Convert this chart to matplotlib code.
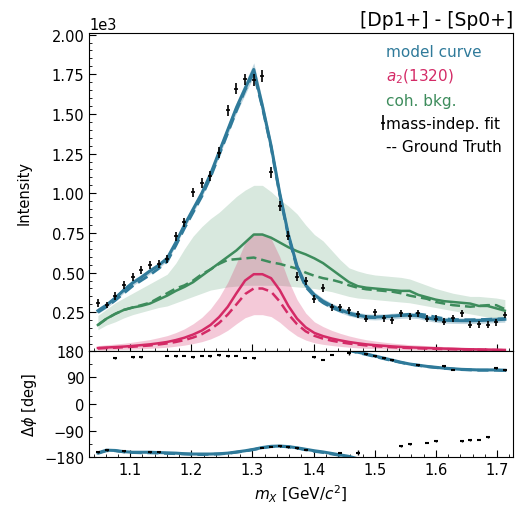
import numpy as np
import matplotlib.pyplot as plt
from matplotlib.ticker import AutoMinorLocator, MultipleLocator
from matplotlib.lines import Line2D

# bin centers of mass-independent fit (GeV)
mass = np.linspace(1.04, 1.72, 49)[:-1] + 0.68 / 96

# mass-independent fit intensities (x1e3)
intens = [0.309, 0.296, 0.354, 0.422, 0.470, 0.518, 0.548, 0.554, 0.585, 0.728,
          0.816, 1.005, 1.064, 1.110, 1.257, 1.523, 1.660, 1.718, 1.714, 1.739,
          1.131, 0.921, 0.732, 0.474, 0.449, 0.331, 0.403, 0.281, 0.281, 0.262,
          0.239, 0.208, 0.250, 0.212, 0.199, 0.245, 0.226, 0.245, 0.208, 0.208,
          0.191, 0.212, 0.245, 0.172, 0.176, 0.170, 0.187, 0.233]
intens_err = [0.025, 0.022, 0.025, 0.025, 0.025, 0.025, 0.025, 0.025, 0.025, 0.028,
              0.028, 0.030, 0.030, 0.030, 0.032, 0.034, 0.035, 0.035, 0.035, 0.035,
              0.033, 0.030, 0.028, 0.028, 0.025, 0.025, 0.025, 0.022, 0.022, 0.022,
              0.022, 0.022, 0.022, 0.022, 0.022, 0.022, 0.022, 0.022, 0.022, 0.022,
              0.022, 0.022, 0.022, 0.022, 0.022, 0.022, 0.022, 0.022]

# model curve (total)
model = [0.26, 0.295, 0.34, 0.39, 0.435, 0.47, 0.51, 0.545, 0.59, 0.69,
         0.80, 0.90, 1.00, 1.12, 1.26, 1.40, 1.54, 1.66, 1.78, 1.55,
         1.30, 1.00, 0.74, 0.54, 0.42, 0.36, 0.32, 0.29, 0.265, 0.245,
         0.232, 0.222, 0.220, 0.222, 0.226, 0.230, 0.232, 0.228, 0.215, 0.205,
         0.200, 0.198, 0.197, 0.197, 0.198, 0.200, 0.203, 0.206]
model_truth = [0.25, 0.285, 0.325, 0.37, 0.415, 0.45, 0.485, 0.525, 0.57, 0.67,
               0.78, 0.88, 0.98, 1.10, 1.24, 1.38, 1.52, 1.65, 1.76, 1.54,
               1.29, 0.99, 0.73, 0.53, 0.41, 0.35, 0.31, 0.28, 0.258, 0.24,
               0.226, 0.218, 0.216, 0.220, 0.226, 0.232, 0.238, 0.240, 0.232, 0.220,
               0.210, 0.205, 0.203, 0.203, 0.204, 0.206, 0.208, 0.210]
model_err = [0.018, 0.018, 0.018, 0.018, 0.018, 0.018, 0.018, 0.018, 0.018, 0.020,
             0.020, 0.022, 0.024, 0.026, 0.028, 0.030, 0.034, 0.038, 0.042, 0.036,
             0.030, 0.026, 0.022, 0.020, 0.018, 0.018, 0.018, 0.018, 0.018, 0.018,
             0.018, 0.018, 0.018, 0.018, 0.018, 0.018, 0.018, 0.018, 0.018, 0.018,
             0.018, 0.018, 0.018, 0.018, 0.018, 0.018, 0.018, 0.018]

# a2(1320)
a2 = [0.025, 0.028, 0.031, 0.034, 0.038, 0.043, 0.048, 0.055, 0.063, 0.075,
      0.090, 0.110, 0.135, 0.170, 0.220, 0.285, 0.370, 0.450, 0.490, 0.490,
      0.465, 0.390, 0.290, 0.210, 0.155, 0.120, 0.100, 0.085, 0.073, 0.063,
      0.055, 0.048, 0.043, 0.039, 0.035, 0.032, 0.029, 0.027, 0.025, 0.023,
      0.021, 0.020, 0.018, 0.017, 0.016, 0.015, 0.014, 0.013]
a2_truth = [0.022, 0.025, 0.027, 0.030, 0.033, 0.037, 0.041, 0.047, 0.054, 0.063,
            0.075, 0.091, 0.112, 0.142, 0.183, 0.236, 0.300, 0.365, 0.400, 0.400,
            0.380, 0.318, 0.238, 0.175, 0.130, 0.102, 0.084, 0.071, 0.061, 0.053,
            0.047, 0.041, 0.037, 0.033, 0.030, 0.027, 0.025, 0.023, 0.021, 0.020,
            0.018, 0.017, 0.016, 0.015, 0.014, 0.013, 0.012, 0.011]
a2_lo = [0.012, 0.013, 0.015, 0.016, 0.018, 0.020, 0.023, 0.026, 0.030, 0.036,
         0.043, 0.053, 0.065, 0.082, 0.106, 0.137, 0.178, 0.216, 0.235, 0.235,
         0.223, 0.187, 0.140, 0.101, 0.075, 0.058, 0.048, 0.041, 0.035, 0.030,
         0.026, 0.023, 0.021, 0.019, 0.017, 0.015, 0.014, 0.013, 0.012, 0.011,
         0.010, 0.010, 0.009, 0.008, 0.008, 0.007, 0.007, 0.006]
a2_hi = [0.040, 0.045, 0.050, 0.055, 0.062, 0.070, 0.078, 0.090, 0.103, 0.122,
         0.146, 0.178, 0.218, 0.272, 0.345, 0.440, 0.560, 0.690, 0.750, 0.750,
         0.715, 0.600, 0.450, 0.330, 0.245, 0.190, 0.160, 0.136, 0.117, 0.101,
         0.088, 0.077, 0.069, 0.062, 0.056, 0.051, 0.046, 0.043, 0.040, 0.037,
         0.034, 0.032, 0.029, 0.027, 0.026, 0.024, 0.022, 0.021]

# coherent background
bkg = [0.17, 0.21, 0.24, 0.265, 0.28, 0.29, 0.305, 0.33, 0.355, 0.385,
       0.41, 0.44, 0.48, 0.52, 0.56, 0.60, 0.64, 0.69, 0.74, 0.74,
       0.72, 0.69, 0.66, 0.635, 0.615, 0.59, 0.56, 0.52, 0.48, 0.44,
       0.415, 0.405, 0.40, 0.395, 0.39, 0.385, 0.385, 0.36, 0.345, 0.33,
       0.32, 0.315, 0.31, 0.305, 0.29, 0.29, 0.275, 0.26]
bkg_truth = [0.17, 0.21, 0.24, 0.265, 0.28, 0.295, 0.31, 0.34, 0.37, 0.40,
             0.42, 0.45, 0.49, 0.52, 0.555, 0.58, 0.585, 0.59, 0.595, 0.58,
             0.565, 0.555, 0.54, 0.525, 0.50, 0.48, 0.465, 0.455, 0.44, 0.42,
             0.405, 0.395, 0.39, 0.385, 0.38, 0.37, 0.355, 0.345, 0.335, 0.315,
             0.305, 0.295, 0.29, 0.285, 0.29, 0.295, 0.295, 0.27]
bkg_lo = [0.14, 0.17, 0.19, 0.215, 0.235, 0.25, 0.265, 0.28, 0.29, 0.31,
          0.33, 0.35, 0.37, 0.39, 0.40, 0.41, 0.415, 0.42, 0.42, 0.42,
          0.42, 0.42, 0.415, 0.41, 0.405, 0.40, 0.39, 0.38, 0.365, 0.35,
          0.34, 0.335, 0.33, 0.325, 0.32, 0.315, 0.31, 0.30, 0.29, 0.28,
          0.27, 0.26, 0.25, 0.24, 0.23, 0.22, 0.215, 0.21]
bkg_hi = [0.23, 0.27, 0.31, 0.34, 0.37, 0.40, 0.43, 0.46, 0.49, 0.56,
          0.65, 0.73, 0.79, 0.84, 0.88, 0.93, 0.98, 1.02, 1.05, 1.05,
          1.01, 0.96, 0.92, 0.87, 0.80, 0.74, 0.70, 0.64, 0.58, 0.53,
          0.51, 0.495, 0.485, 0.48, 0.475, 0.47, 0.46, 0.44, 0.42, 0.40,
          0.385, 0.37, 0.36, 0.35, 0.35, 0.345, 0.34, 0.33]

# phase difference (deg), model unwrapped
phase_model = [-165, -156, -157, -161, -163, -163, -163, -164, -165, -166,
               -168, -169, -169, -169, -168, -166, -162, -158, -153, -147,
               -143, -142, -144, -148, -153, -158, -162, -167, -172, -177,
               -185, -191, -198, -205, -212, -219, -225, -229, -233, -236,
               -239, -241, -243, -244, -245, -245, -245, -246]
phase_truth = [-167, -158, -158, -162, -164, -165, -165, -166, -167, -168,
               -169, -170, -171, -170, -169, -167, -163, -159, -154, -148,
               -144, -143, -145, -149, -155, -160, -164, -169, -174, -179,
               -187, -193, -200, -207, -214, -220, -226, -230, -234, -237,
               -240, -242, -244, -245, -246, -246, -246, -247]
phase_data = [-163, -157, 154, -160, 158, 158, -162, -163, 163, 161,
              163, 158, 163, 161, 164, 161, 163, 157, 155, -148,
              -144, -142, -145, -149, -154, 158, 150, 166, -164, 172,
              -164, 169, 162, 155, 148, -142, -136, 131, -131, -126,
              127, 116, -126, -122, -121, -112, 120, 114]
phase_err = [2, 2, 2, 2, 2, 2, 2, 2, 2, 2,
             2, 2, 2, 2, 2, 2, 2, 2, 2, 2,
             2, 2, 2, 2, 2, 2, 2, 2, 2, 5,
             7, 2, 2, 2, 2, 2, 2, 2, 2, 2,
             2, 2, 2, 2, 2, 2, 2, 2]

blue = '#2f7a9a'
pink = '#d42a66'
green = '#3d8c5c'

fig = plt.figure(figsize=(5.17, 5.10), dpi=100)
ax = fig.add_axes([0.1727, 0.3104, 0.8193, 0.6229])
axp = fig.add_axes([0.1727, 0.1014, 0.8193, 0.2090], sharex=ax)

m = np.array(mass)
sc = 1000.0

# bands
ax.fill_between(m, np.array(bkg_lo) * sc, np.array(bkg_hi) * sc, color=green, alpha=0.2, lw=0)
ax.fill_between(m, np.array(a2_lo) * sc, np.array(a2_hi) * sc, color=pink, alpha=0.25, lw=0)
ax.fill_between(m, (np.array(model) - model_err) * sc, (np.array(model) + model_err) * sc,
                color=blue, alpha=0.3, lw=0)

ax.plot(m, np.array(bkg) * sc, color=green, lw=1.8)
ax.plot(m, np.array(bkg_truth) * sc, color=green, lw=1.8, ls=(0, (4, 2)))
ax.plot(m, np.array(a2) * sc, color=pink, lw=1.8)
ax.plot(m, np.array(a2_truth) * sc, color=pink, lw=1.8, ls=(0, (4, 2)))
ax.plot(m, np.array(model) * sc, color=blue, lw=2.2)
ax.plot(m, np.array(model_truth) * sc, color=blue, lw=2.0, ls=(0, (4, 2)))

eb = ax.errorbar(m, np.array(intens) * sc, yerr=np.array(intens_err) * sc, fmt='_',
                 color='black', ms=3, mew=1.2, elinewidth=1.2, zorder=5)

# legend with coloured labels
handles = [Line2D([], [], ls='none'), Line2D([], [], ls='none'),
           Line2D([], [], ls='none'), eb, Line2D([], [], ls='none')]
labels = ['model curve', '$a_2$(1320)', 'coh. bkg.', 'mass-indep. fit', '-- Ground Truth']
leg = ax.legend(handles, labels, loc='upper right', frameon=False, fontsize=11,
                handlelength=0, handletextpad=0.25, labelspacing=0.52,
                borderaxespad=0.3)
for t, c in zip(leg.get_texts(), [blue, pink, green, 'black', 'black']):
    t.set_color(c)

ax.set_xlim(1.033, 1.726)
ax.set_ylim(8, 2010)
ax.ticklabel_format(axis='y', style='sci', scilimits=(0, 0))
ax.yaxis.set_major_locator(MultipleLocator(250))
ax.yaxis.set_minor_locator(AutoMinorLocator(5))
ax.xaxis.set_minor_locator(AutoMinorLocator(5))
ax.tick_params(which='both', direction='in', labelsize=10.5)
ax.tick_params(which='major', length=5)
ax.tick_params(which='minor', length=2.5)
ax.tick_params(axis='x', labelbottom=False)
ax.yaxis.get_offset_text().set_fontsize(10.5)
ax.set_ylabel('Intensity', fontsize=10.5, labelpad=14)
ax.set_title('[Dp1+] - [Sp0+]', loc='right', fontsize=13.5, pad=6)

# phase panel: draw wrapped copies
pm = np.array(phase_model)
pt = np.array(phase_truth)
for off in (0, 360):
    axp.plot(m, pm + off, color=blue, lw=2.2)
    axp.plot(m, pt + off, color=blue, lw=2.0, ls=(0, (4, 2)))
axp.errorbar(m, phase_data, yerr=phase_err, fmt='_', color='black', ms=3, mew=1.5,
             elinewidth=1.0, zorder=5)
axp.set_ylim(-180, 180)
axp.yaxis.set_major_locator(MultipleLocator(90))
axp.yaxis.set_minor_locator(AutoMinorLocator(2))
axp.xaxis.set_major_locator(MultipleLocator(0.1))
axp.xaxis.set_minor_locator(AutoMinorLocator(5))
axp.tick_params(which='both', direction='in', labelsize=10.5)
axp.tick_params(which='major', length=5)
axp.tick_params(which='minor', length=2.5)
axp.set_ylabel(r'$\Delta\phi$ [deg]', fontsize=10.5)
axp.set_xlabel('$m_X$ [GeV/$c^2$]', fontsize=11)

fig.savefig('out.png', dpi=100)
